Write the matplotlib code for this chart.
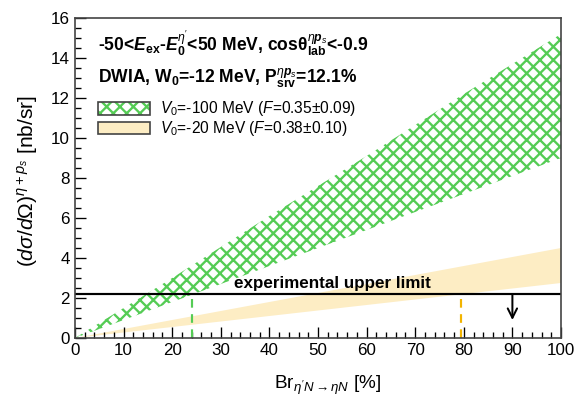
import matplotlib
matplotlib.use('Agg')
import matplotlib.pyplot as plt
from matplotlib.patches import Rectangle
from matplotlib.ticker import MultipleLocator

DPI = 120


def pt(px):
    # pixel size -> points at this dpi
    return px * 72.0 / DPI


plt.rcParams['font.family'] = ['Liberation Sans', 'DejaVu Sans']
plt.rcParams['mathtext.fontset'] = 'custom'
plt.rcParams['mathtext.rm'] = 'Liberation Sans'
plt.rcParams['mathtext.it'] = 'Liberation Sans:italic'
plt.rcParams['mathtext.bf'] = 'Liberation Sans:bold'
plt.rcParams['mathtext.bfit'] = 'Liberation Sans:bold:italic'
plt.rcParams['hatch.linewidth'] = 1.4

# data
br = [0, 20, 40, 60, 80, 100]
v100_hi = [0, 3.0, 6.1, 9.1, 12.2, 15.2]
v100_lo = [0, 1.8, 3.6, 5.4, 7.2, 9.0]
v20_hi = [0, 0.9, 1.8, 2.7, 3.6, 4.5]
v20_lo = [0, 0.55, 1.1, 1.65, 2.2, 2.75]
upper_limit = 2.2
br_cross_v100 = 24
br_cross_v20 = 79.5
arrow_x = 90
arrow_end = 0.9

green = '#55cc55'
yellow = '#fdedc4'
orange = '#f2b400'
hatch = 'xxx'

fig = plt.figure(figsize=(577 / DPI, 399 / DPI), dpi=DPI)
ax = fig.add_axes([75 / 577, 1 - 338 / 399, 486 / 577, 320 / 399])

ax.fill_between(br, v20_lo, v20_hi, facecolor=yellow, edgecolor='none', lw=0)
ax.fill_between(br, v100_lo, v100_hi, facecolor='none', edgecolor=green,
                hatch=hatch, lw=0)

ax.axhline(upper_limit, color='black', lw=1.3)
ax.plot([br_cross_v100, br_cross_v100], [0, upper_limit], color=green,
        ls=(0, (4, 3)), lw=1.3)
ax.plot([br_cross_v20, br_cross_v20], [0, upper_limit], color=orange,
        ls=(0, (4, 3)), lw=1.3)
ax.annotate('', xy=(arrow_x, arrow_end), xytext=(arrow_x, upper_limit),
            arrowprops=dict(arrowstyle='->', color='black', lw=1.2,
                            mutation_scale=14, shrinkA=0, shrinkB=0))
ax.text(53, upper_limit + 0.15, 'experimental upper limit', ha='center',
        va='bottom', fontsize=pt(17), fontweight='bold')

ax.set_xlim(0, 100)
ax.set_ylim(0, 16)
ax.xaxis.set_major_locator(MultipleLocator(10))
ax.xaxis.set_minor_locator(MultipleLocator(2))
ax.yaxis.set_major_locator(MultipleLocator(2))
ax.yaxis.set_minor_locator(MultipleLocator(0.5))
ax.tick_params(which='both', direction='in', labelsize=pt(17), width=0.8)
ax.tick_params(which='major', length=pt(11), pad=pt(5))
ax.tick_params(which='minor', length=pt(6))
for sp in ax.spines.values():
    sp.set_linewidth(1.0)
    sp.set_color('#444444')

ax.set_xlabel(r"Br$_{\eta' N\rightarrow\eta N}$ [%]", fontsize=pt(19),
              va='center')
ax.xaxis.set_label_coords(0.52, -0.147)
ax.set_ylabel(r'$(d\sigma/d\Omega)^{\eta+p_s}$ [nb/sr]', fontsize=pt(21),
              va='center')
ax.yaxis.set_label_coords(-0.097, 0.49)

ax.text(0.047, 0.922,
        r"-50<$\mathbfit{E}_{\mathbf{ex}}$-$\mathbfit{E}_{\mathbf{0}}^{\eta'}$"
        r'<50 MeV, cos$\mathbf{\theta}_{\mathbf{lab}}^{\eta \mathbfit{p}_s}$<-0.9',
        transform=ax.transAxes, ha='left', va='center', fontsize=pt(17.5),
        fontweight='bold')
ax.text(0.047, 0.8125,
        r'DWIA, W$_{\mathbf{0}}$=-12 MeV, P$_{\mathbf{srv}}^{\eta \mathbfit{p}_s}$=12.1%',
        transform=ax.transAxes, ha='left', va='center', fontsize=pt(17.5),
        fontweight='bold')

# legend
rows = [
    (0.716, r'$V_0$=-100 MeV ($F$=0.35$\pm$0.09)', 'hatch'),
    (0.656, r'$V_0$=-20 MeV ($F$=0.38$\pm$0.10)', 'fill'),
]
for y, label, kind in rows:
    if kind == 'hatch':
        ax.add_patch(Rectangle((0.047, y - 0.02), 0.107, 0.04, transform=ax.transAxes,
                               facecolor='white', edgecolor=green, hatch=hatch, lw=0))
    else:
        ax.add_patch(Rectangle((0.047, y - 0.02), 0.107, 0.04, transform=ax.transAxes,
                               facecolor=yellow, edgecolor='none', lw=0))
    ax.add_patch(Rectangle((0.047, y - 0.02), 0.107, 0.04, transform=ax.transAxes,
                           facecolor='none', edgecolor='#444444', lw=1.0))
    ax.text(0.175, y, label, transform=ax.transAxes, ha='left', va='center',
            fontsize=pt(15.5))

fig.savefig('out.png', dpi=DPI)
